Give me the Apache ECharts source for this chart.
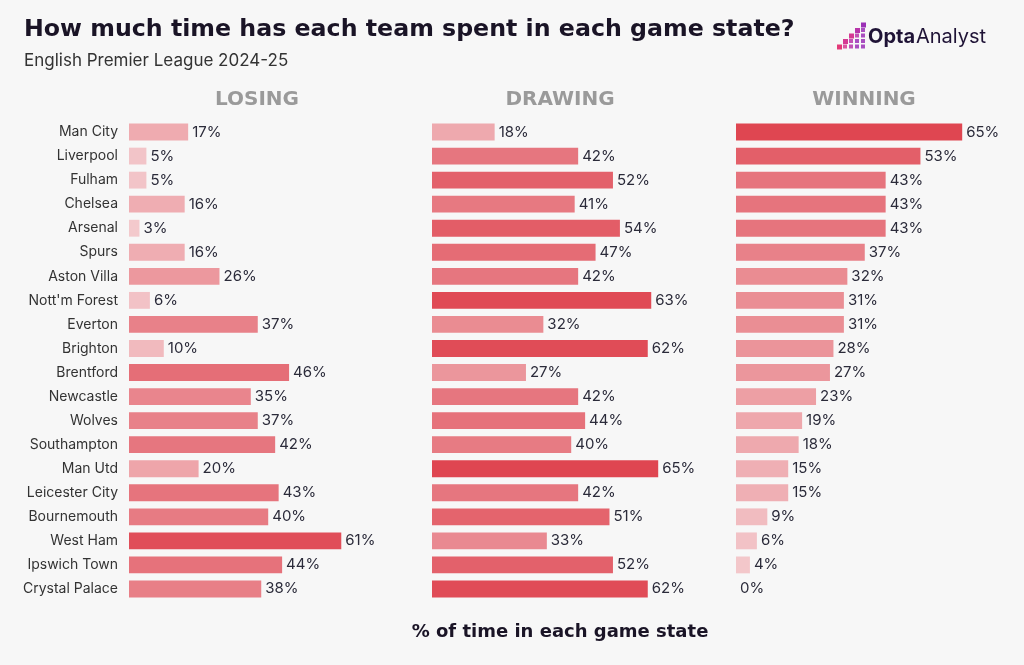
<!DOCTYPE html>
<html>
<head>
<meta charset="utf-8">
<script src="https://cdn.jsdelivr.net/npm/echarts@6/dist/echarts.min.js"></script>
<style>
html,body{margin:0;padding:0;background:#f7f7f7;}
#chart{width:1024px;height:665px;}
</style>
</head>
<body>
<div id="chart"></div>
<script>
const teams = ["Man City","Liverpool","Fulham","Chelsea","Arsenal","Spurs","Aston Villa","Nott'm Forest","Everton","Brighton","Brentford","Newcastle","Wolves","Southampton","Man Utd","Leicester City","Bournemouth","West Ham","Ipswich Town","Crystal Palace"];
const losing  = [17,5,5,16,3,16,26,6,37,10,46,35,37,42,20,43,40,61,44,38];
const drawing = [18,42,52,41,54,47,42,63,32,62,27,42,44,40,65,42,51,33,52,62];
const winning = [65,53,43,43,43,37,32,31,31,28,27,23,19,18,15,15,9,6,4,0];
const panelTitles = ["LOSING","DRAWING","WINNING"];

const FONT = "Inter, 'Noto Sans', sans-serif";
const HFONT = "'DejaVu Sans', sans-serif";
const chart = echarts.init(document.getElementById('chart'));
const panels = [losing, drawing, winning];
const lefts = [129, 432, 736];
const headerX = [257, 560, 864];
const lo = [244,207,210], hi = [223,70,81];
function colorFor(v){
  const t = Math.max(0, Math.min(1, v/65));
  const c = lo.map((l,i)=>Math.round(l+(hi[i]-l)*t));
  return 'rgb('+c.join(',')+')';
}

const grids = [], xAxes = [], yAxes = [], series = [];
panels.forEach((vals, i) => {
  grids.push({left: lefts[i], top: 120, width: 243.6, height: 481});
  xAxes.push({type:'value', gridIndex:i, min:0, max:70, show:false});
  yAxes.push({type:'category', gridIndex:i, data:teams, inverse:true,
    axisLine:{show:false}, axisTick:{show:false}, splitLine:{show:false},
    axisLabel:{show:i===0, color:'#333', fontSize:14, fontFamily:FONT, margin:11}});
  series.push({type:'bar', xAxisIndex:i, yAxisIndex:i, barCategoryGap:'30%',
    data: vals.map(v=>({value:v, itemStyle:{color:colorFor(v)}})),
    label:{show:true, position:'right', distance:4, formatter:'{c}%', color:'#2b2b3a', fontSize:15, fontFamily:FONT},
    silent:true, animation:false});
});

const graphics = [
  {type:'text', left:24, top:18, style:{text:'How much time has each team spent in each game state?', fill:'#1a1426', font:'bold 23.7px '+HFONT}},
  {type:'text', left:24, top:52, style:{text:'English Premier League 2024-25', fill:'#333', font:'17px '+FONT}},
  {type:'text', x:560, y:632, style:{text:'% of time in each game state', fill:'#1a1426', font:'bold 18px '+HFONT, textAlign:'center', textVerticalAlign:'middle'}},
  {type:'text', x:868, y:37, style:{text:'Opta', fill:'#1f1336', font:'bold 20px '+FONT, textVerticalAlign:'middle'}},
  {type:'text', x:916, y:37, style:{text:'Analyst', fill:'#1f1336', font:'20px '+FONT, textVerticalAlign:'middle'}}
];
panelTitles.forEach((t,i)=>{
  graphics.push({type:'text', x:headerX[i], y:100, style:{text:t, fill:'#9a9a9a', font:'bold 20px '+HFONT, textAlign:'center', textVerticalAlign:'middle'}});
});
// logo squares (decoration)
const logoCols = [[1],[1,2],[1,2,3],[1,2,3,4],[1,2,3,4,5]];
const logoColors = ['#e8325a','#e33a78','#d63a93','#b835aa','#9b30b6'];
logoCols.forEach((rows, ci)=>{
  rows.forEach((r)=>{
    const s = r===rows.length ? 5 : 4;
    graphics.push({type:'rect', shape:{x:837+ci*6, y:50-r*5.5, width:s, height:s},
      style:{fill: logoColors[Math.min(4, ci + (r>2?0:1))], opacity: r===rows.length?1:0.85}});
  });
});

chart.setOption({
  backgroundColor:'#f7f7f7',
  animation:false,
  grid: grids, xAxis: xAxes, yAxis: yAxes, series: series,
  graphic: graphics
});
</script>
</body>
</html>
